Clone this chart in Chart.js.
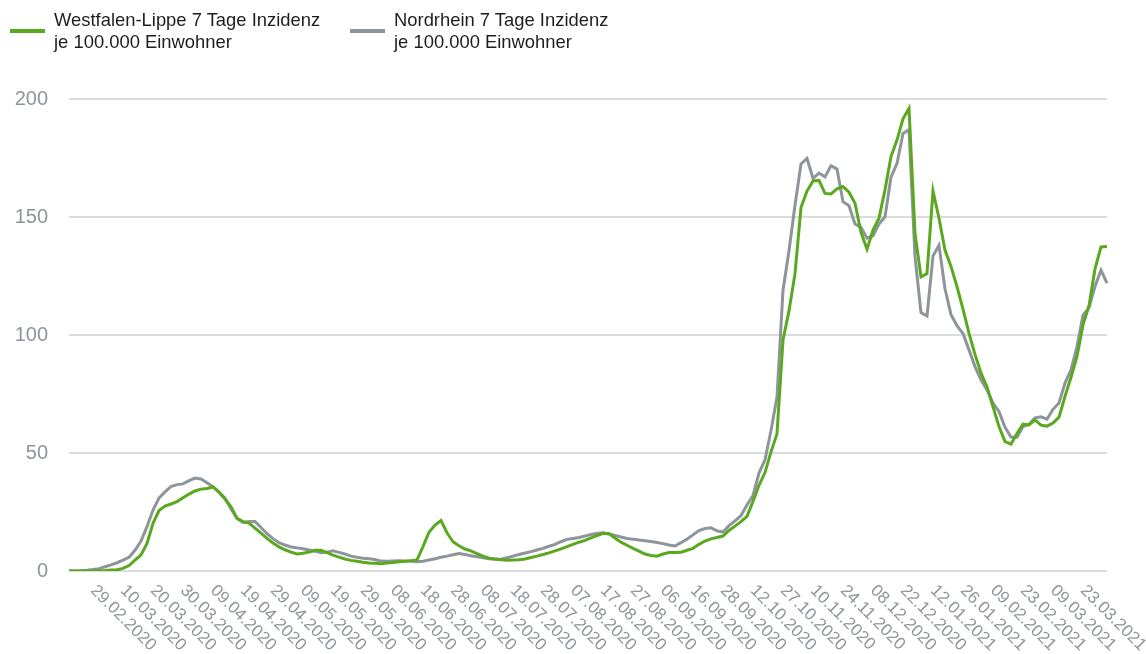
<!DOCTYPE html>
<html>
<head>
<meta charset="utf-8">
<script src="https://cdn.jsdelivr.net/npm/chart.js@4/dist/chart.umd.min.js"></script>
<style>
    html, body { margin: 0; padding: 0; background: #fff; }
    #wrap { position: relative; width: 1146px; height: 654px; overflow: hidden; }
    #chart { position: absolute; left: 0; top: 0; }
    .legend-item { position: absolute; top: 9px; font-family: "Liberation Sans", Arial, sans-serif; font-size: 18.4px; line-height: 22px; color: #1e1e1e; }
    .legend-item .swatch { position: absolute; top: 20px; width: 35px; height: 4px; }
    .legend-item .text { position: absolute; white-space: nowrap; }
</style>
</head>
<body>
<div id="wrap">
    <canvas id="chart" width="1146" height="654"></canvas>
    <div id="legend"></div>
</div>
<script>
// x-axis tick labels (every 10th reporting day)
const tickLabels = [
    '29.02.2020', '10.03.2020', '20.03.2020', '30.03.2020', '09.04.2020', '19.04.2020',
    '29.04.2020', '09.05.2020', '19.05.2020', '29.05.2020', '08.06.2020', '18.06.2020',
    '28.06.2020', '08.07.2020', '18.07.2020', '28.07.2020', '07.08.2020', '17.08.2020',
    '27.08.2020', '06.09.2020', '16.09.2020', '28.09.2020', '12.10.2020', '27.10.2020',
    '10.11.2020', '24.11.2020', '08.12.2020', '22.12.2020', '12.01.2021', '26.01.2021',
    '09.02.2021', '23.02.2021', '09.03.2021', '23.03.2021'
];

const westfalenLippe = [
    0, 0, 0, 0, 0, 0.1, 0.2, 0.4, 0.5, 1.1,
    2.3, 4.6, 6.8, 11.7, 20.2, 25.6, 27.5, 28.4, 29.4, 31.0,
    32.6, 33.9, 34.7, 35.0, 35.6, 33.4, 30.5, 27.2, 22.3, 20.9,
    20.3, 18.2, 16.0, 13.8, 11.9, 10.2, 9.0, 8.0, 7.2, 7.5,
    8.0, 8.8, 8.8, 7.8, 6.7, 5.9, 5.1, 4.5, 4.1, 3.7,
    3.4, 3.3, 3.1, 3.4, 3.6, 3.9, 4.1, 4.4, 4.7, 10.3,
    16.4, 19.5, 21.4, 16.2, 12.4, 10.7, 9.3, 8.5, 7.4, 6.3,
    5.4, 5.1, 4.8, 4.6, 4.7, 4.8, 5.1, 5.7, 6.3, 7.0,
    7.7, 8.5, 9.4, 10.3, 11.3, 12.2, 13.0, 14.0, 15.0, 16.0,
    15.8, 14.0, 12.2, 10.9, 9.6, 8.4, 7.2, 6.6, 6.3, 7.2,
    7.8, 7.8, 7.9, 8.8, 9.6, 11.3, 12.7, 13.6, 14.2, 14.8,
    17.2, 19.0, 20.9, 23.2, 29.5, 36.3, 41.7, 50.5, 58.2, 97.9,
    110.2, 126, 154, 161, 165.3, 165.5, 160, 159.8, 161.9, 162.9,
    160.5, 155.8, 143.5, 136.3, 144.5, 149.5, 161.5, 175.6, 182.6, 191.6,
    196, 143, 124.6, 126, 161, 149.5, 136, 129, 120.5, 111,
    100.7, 91.8, 83.8, 78.1, 69.6, 61.2, 54.8, 53.8, 58.3, 62.2,
    61.9, 64, 61.8, 61.4, 62.7, 65.2, 74, 82.1, 90.9, 104.3,
    112.4, 128, 137.3, 137.5
];

const nordrhein = [
    0, 0, 0.1, 0.3, 0.6, 1.0, 1.8, 2.6, 3.5, 4.6,
    5.8, 8.8, 12.7, 18.8, 25.8, 30.9, 33.5, 35.8, 36.6, 36.9,
    38.3, 39.4, 39.0, 37.4, 35.7, 33.3, 30.9, 26.3, 22.4, 20.6,
    21.0, 21.0, 18.4, 15.8, 13.7, 12.0, 11.0, 10.2, 9.8, 9.4,
    8.9, 8.4, 7.7, 8.0, 8.6, 7.9, 7.2, 6.3, 5.8, 5.4,
    5.2, 4.9, 4.2, 4.1, 4.2, 4.3, 4.2, 4.1, 3.9, 4.1,
    4.7, 5.2, 5.8, 6.3, 6.9, 7.4, 7.0, 6.5, 6.0, 5.6,
    5.2, 5.0, 5.0, 5.6, 6.3, 7.0, 7.6, 8.2, 8.9, 9.6,
    10.5, 11.3, 12.4, 13.4, 13.8, 14.2, 14.8, 15.5, 15.9, 16.2,
    15.7, 15.1, 14.4, 13.8, 13.5, 13.1, 12.8, 12.5, 12.1, 11.6,
    11.0, 10.6, 12.0, 13.5, 15.3, 17.1, 18.0, 18.3, 17.0, 16.5,
    19.2, 21.2, 23.5, 28.0, 32, 41.5, 47.1, 59.5, 73.7, 119,
    135.7, 155, 172.5, 174.8, 166.4, 168.6, 167, 171.7, 170.3, 156.5,
    154.8, 147, 145.6, 141, 142, 147, 150.1, 166.9, 172.7, 185.4,
    187, 133.2, 109.5, 108, 133.5, 138, 119.6, 108.6, 104, 100.6,
    93.7, 86.6, 81, 76.7, 71.1, 67.6, 60.9, 56.8, 56.7, 61.2,
    62.2, 64.9, 65.3, 64.3, 68.5, 71.2, 79.6, 85.2, 95.1, 108.4,
    111.5, 120.6, 127.5, 122
];

const seriesNames = [
    ['Westfalen-Lippe 7 Tage Inzidenz', 'je 100.000 Einwohner'],
    ['Nordrhein 7 Tage Inzidenz', 'je 100.000 Einwohner']
];
const seriesColors = ['#5aa81e', '#8d949b'];

// one category per sample, a label on every 5th sample (= every 10th day)
const firstTick = 4;
const categories = westfalenLippe.map(function (v, i) {
    const k = (i - firstTick) / 5;
    return (i >= firstTick && Number.isInteger(k) && tickLabels[k]) ? tickLabels[k] : '';
});

// html legend
const legendPos = [10, 350];
const legendEl = document.getElementById('legend');
seriesNames.forEach(function (lines, i) {
    const item = document.createElement('div');
    item.className = 'legend-item';
    item.style.left = legendPos[i] + 'px';
    item.innerHTML = '<div class="swatch" style="background:' + seriesColors[i] + '"></div>' +
        '<div class="text" style="left:44px">' + lines.join('<br>') + '</div>';
    legendEl.appendChild(item);
});

// draws the x labels rotated 45 degrees downwards, starting at the tick
const slantedLabels = {
    id: 'slantedLabels',
    afterDraw: function (chart) {
        const ctx = chart.ctx;
        const xScale = chart.scales.x;
        ctx.save();
        ctx.font = '17px "Liberation Sans", Arial, sans-serif';
        ctx.fillStyle = '#8f959b';
        ctx.textAlign = 'left';
        ctx.textBaseline = 'middle';
        categories.forEach(function (label, i) {
            if (!label) return;
            const x = xScale.getPixelForValue(i);
            const y = chart.chartArea.bottom + 17;
            ctx.save();
            ctx.translate(x, y);
            ctx.rotate(Math.PI / 4);
            ctx.fillText(label, 0, 0);
            ctx.restore();
        });
        ctx.restore();
    }
};

const ctx = document.getElementById('chart').getContext('2d');
new Chart(ctx, {
    type: 'line',
    data: {
        labels: categories,
        datasets: [{
            label: seriesNames[0].join(' '),
            data: westfalenLippe,
            borderColor: seriesColors[0],
            borderWidth: 3,
            pointRadius: 0,
            tension: 0,
            fill: false
        }, {
            label: seriesNames[1].join(' '),
            data: nordrhein,
            borderColor: seriesColors[1],
            borderWidth: 3,
            pointRadius: 0,
            tension: 0,
            fill: false
        }]
    },
    options: {
        responsive: false,
        animation: false,
        layout: {
            padding: { top: 99, right: 39, left: 0, bottom: 0 }
        },
        scales: {
            x: {
                type: 'category',
                offset: false,
                grid: { display: false },
                border: { display: false },
                ticks: { display: false },
                afterFit: function (scale) { scale.height = 83; }
            },
            y: {
                min: 0,
                max: 200,
                border: { display: false },
                grid: {
                    color: '#dcdcdc',
                    lineWidth: 2,
                    drawTicks: false
                },
                ticks: {
                    stepSize: 50,
                    padding: 21,
                    color: '#8f959b',
                    font: { family: '"Liberation Sans", Arial, sans-serif', size: 20 }
                },
                afterFit: function (scale) { scale.width = 69; }
            }
        },
        plugins: {
            legend: { display: false },
            tooltip: { enabled: false }
        }
    },
    plugins: [slantedLabels]
});
</script>
</body>
</html>
